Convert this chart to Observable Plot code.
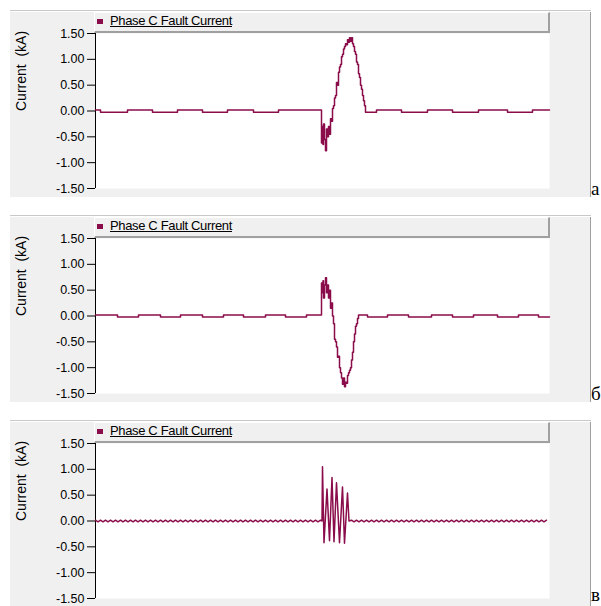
<!DOCTYPE html>
<html><head><meta charset="utf-8">
<script src="https://cdn.jsdelivr.net/npm/d3@7"></script>
<script src="https://cdn.jsdelivr.net/npm/@observablehq/plot@0.6"></script>
<style>
body{margin:0;background:#fff;font-family:"Liberation Sans",Arial,sans-serif;}
#root{position:relative;width:601px;height:606px;overflow:hidden;}
.topline{position:absolute;left:10px;width:581px;height:1px;background:#c8c8c8;}
.bg{position:absolute;left:10px;width:580px;height:185px;background:#f0f0f0;border-right:1px solid #a0a0a0;}
.legend{position:absolute;left:94px;width:456px;height:21px;box-sizing:border-box;background:#f0f0f0;border-top:1px solid #fff;border-left:1px solid #fff;border-right:2px solid #a0a0a0;border-bottom:2px solid #a0a0a0;}
.legend .sw{position:absolute;left:2px;top:6px;width:6px;height:5px;background:#8a0c4a;}
.legend .lt{position:absolute;left:15px;top:0px;font-size:13px;letter-spacing:-0.35px;text-decoration:underline;color:#000;white-space:nowrap;}
.tag{position:absolute;left:591px;font-family:"Liberation Serif","Times New Roman",serif;font-size:19px;line-height:19px;color:#000;}
.plotwrap{position:absolute;left:0;}
</style>
</head><body><div id="root"></div>
<script>
// ---- data (t = time in samples across the window, v = current in kA) ----
const seriesName = "Phase C Fault Current";
const yLabel = "Current  (kA)";
const yTicks = [-1.5, -1.0, -0.5, 0.0, 0.5, 1.0, 1.5];
const tDomain = [0, 454];
const panelTags = ["а", "б", "в"];

// panel a
const aPre = [[0,0.02],[5,-0.025],[32,0.02],[57,-0.025],[82,0.02],[107,-0.025],[132,0.02],[158,-0.025],[183,0.02]];
const aFault = [[226,-0.62],[227,-0.3],[227.5,-0.65],[228,-0.25],[229,-0.55],[230,-0.77],[231,-0.35],[232,-0.5],[233,-0.3],[234,-0.45],[235,-0.15],[236,-0.2],[237,0.05],[238,0.1],[239,0.25],[240,0.3],[241,0.55],[242,0.5],[243,0.75],[244,0.85],[245,0.9],[246,1.05],[247,1.1],[248,1.2],[249,1.25],[250,1.3],[251,1.28],[252,1.38],[253,1.33],[254,1.42],[255,1.35],[256,1.42],[257,1.3],[258,1.25],[259,1.15],[260,1.1],[261,0.95],[262,0.9],[263,0.72],[264,0.65],[265,0.5],[266,0.42],[267,0.3],[268,0.2],[269,0.1]];
const aPost = [[270,-0.025],[281,0.02],[306,-0.025],[332,0.02],[357,-0.025],[383,0.02],[412,-0.025],[437,0.02],[454,0.02]];

// panel b
const bPre = [[0,0.02],[22,-0.02],[43,0.02],[65,-0.02],[85,0.02],[107,-0.02],[128,0.02],[148,-0.02],[170,0.02],[190,-0.02],[211,0.02]];
const bFault = [[226,0.64],[227,0.45],[227.5,0.68],[228,0.35],[229,0.6],[230,0.74],[231,0.45],[232,0.6],[233,0.35],[234,0.5],[235,0.15],[236,0.25],[237,0.0],[238,-0.15],[239,-0.45],[240,-0.5],[241,-0.6],[242,-0.8],[243,-0.78],[244,-1.0],[245,-1.1],[246,-1.2],[247,-1.32],[248,-1.2],[249,-1.37],[250,-1.28],[251,-1.3],[252,-1.15],[253,-1.1],[254,-1.05],[255,-1.0],[256,-0.85],[257,-0.7],[258,-0.5],[259,-0.35],[260,-0.2],[261,-0.15],[262,-0.05]];
const bPost = [[263,0.02],[272,-0.02],[292,0.02],[313,-0.02],[336,0.02],[357,-0.02],[378,0.02],[402,-0.02],[423,0.02],[443,-0.02],[454,-0.02]];

// panel c (ripple sampled every 2.5 samples)
const cRippleStep = 2.5;
const cRippleBefore = [
 0.015,-0.015,0.015,-0.015,0.015,-0.015,0.015,-0.015,0.015,-0.015,
 0.015,-0.015,0.015,-0.015,0.015,-0.015,0.015,-0.015,0.015,-0.015,
 0.015,-0.015,0.015,-0.015,0.015,-0.015,0.015,-0.015,0.015,-0.015,
 0.015,-0.015,0.015,-0.015,0.015,-0.015,0.015,-0.015,0.015,-0.015,
 0.015,-0.015,0.015,-0.015,0.015,-0.015,0.015,-0.015,0.015,-0.015,
 0.015,-0.015,0.015,-0.015,0.015,-0.015,0.015,-0.015,0.015,-0.015,
 0.015,-0.015,0.015,-0.015,0.015,-0.015,0.015,-0.015,0.015,-0.015,
 0.015,-0.015,0.015,-0.015,0.015,-0.015,0.015,-0.015,0.015,-0.015,
 0.015,-0.015,0.015,-0.015,0.015,-0.015,0.015,-0.015,0.015,-0.015,
 0.015];
const cFault = [[226.5,0.0],[227,1.05],[228.5,-0.42],[231.5,0.62],[234,-0.38],[236.5,0.84],[238.5,-0.4],[241,0.74],[244,-0.42],[247,0.66],[249,-0.43],[252,0.54],[253.5,0.0]];
const cRippleAfterStart = 256;
const cRippleAfter = [
 0.015,-0.015,0.015,-0.015,0.015,-0.015,0.015,-0.015,0.015,-0.015,
 0.015,-0.015,0.015,-0.015,0.015,-0.015,0.015,-0.015,0.015,-0.015,
 0.015,-0.015,0.015,-0.015,0.015,-0.015,0.015,-0.015,0.015,-0.015,
 0.015,-0.015,0.015,-0.015,0.015,-0.015,0.015,-0.015,0.015,-0.015,
 0.015,-0.015,0.015,-0.015,0.015,-0.015,0.015,-0.015,0.015,-0.015,
 0.015,-0.015,0.015,-0.015,0.015,-0.015,0.015,-0.015,0.015,-0.015,
 0.015,-0.015,0.015,-0.015,0.015,-0.015,0.015,-0.015,0.015,-0.015,
 0.015,-0.015,0.015,-0.015,0.015,-0.015,0.015,-0.015,0.015];

// ---- build ----
const color = "#8a0c4a";
const toObj = p => ({t: p[0], v: p[1]});
const panels = [
  {data: [...aPre, ...aFault, ...aPost].map(toObj), curve: "step-after"},
  {data: [...bPre, ...bFault, ...bPost].map(toObj), curve: "step-after"},
  {data: [
     ...cRippleBefore.map((v, i) => ({t: i * cRippleStep, v})),
     ...cFault.map(toObj),
     ...cRippleAfter.map((v, i) => ({t: cRippleAfterStart + i * cRippleStep, v}))
   ], curve: "linear"}
];

const root = document.getElementById("root");
const offsets = [0, 205, 410];
const tagTops = [179, 384, 585];
panels.forEach((p, k) => {
  const P = offsets[k];
  const tl = document.createElement("div"); tl.className = "topline"; tl.style.top = (P + 10) + "px"; root.appendChild(tl);
  const bg = document.createElement("div"); bg.className = "bg"; bg.style.top = (P + 12) + "px"; root.appendChild(bg);

  const chart = Plot.plot({
    width: 601, height: 200,
    marginLeft: 95, marginRight: 52, marginTop: 33, marginBottom: 12,
    style: {background: "transparent", fontFamily: "'Liberation Sans', Arial, sans-serif", overflow: "visible"},
    x: {domain: tDomain, axis: null},
    y: {domain: [-1.5, 1.5], axis: null},
    marks: [
      Plot.frame({fill: "white", stroke: "none"}),
      Plot.axisY({ticks: yTicks, tickFormat: d => d.toFixed(2), tickSize: 8, tickPadding: 3, fontSize: 12.5, label: null}),
      Plot.ruleX([tDomain[0]], {stroke: "black"}),
      Plot.text([yLabel], {frameAnchor: "left", rotate: -90, dx: -74, fontSize: 14, fill: "black"}),
      Plot.line(p.data, {x: "t", y: "v", curve: p.curve, stroke: color, strokeWidth: 1.5})
    ]
  });
  const wrap = document.createElement("div"); wrap.className = "plotwrap"; wrap.style.top = P + "px";
  wrap.appendChild(chart); root.appendChild(wrap);

  const lg = document.createElement("div"); lg.className = "legend"; lg.style.top = (P + 12) + "px";
  lg.innerHTML = '<div class="sw"></div><div class="lt"></div>';
  lg.querySelector(".lt").textContent = seriesName;
  root.appendChild(lg);

  const tag = document.createElement("div"); tag.className = "tag"; tag.style.top = tagTops[k] + "px";
  tag.textContent = panelTags[k]; root.appendChild(tag);
});
</script>
</body></html>
